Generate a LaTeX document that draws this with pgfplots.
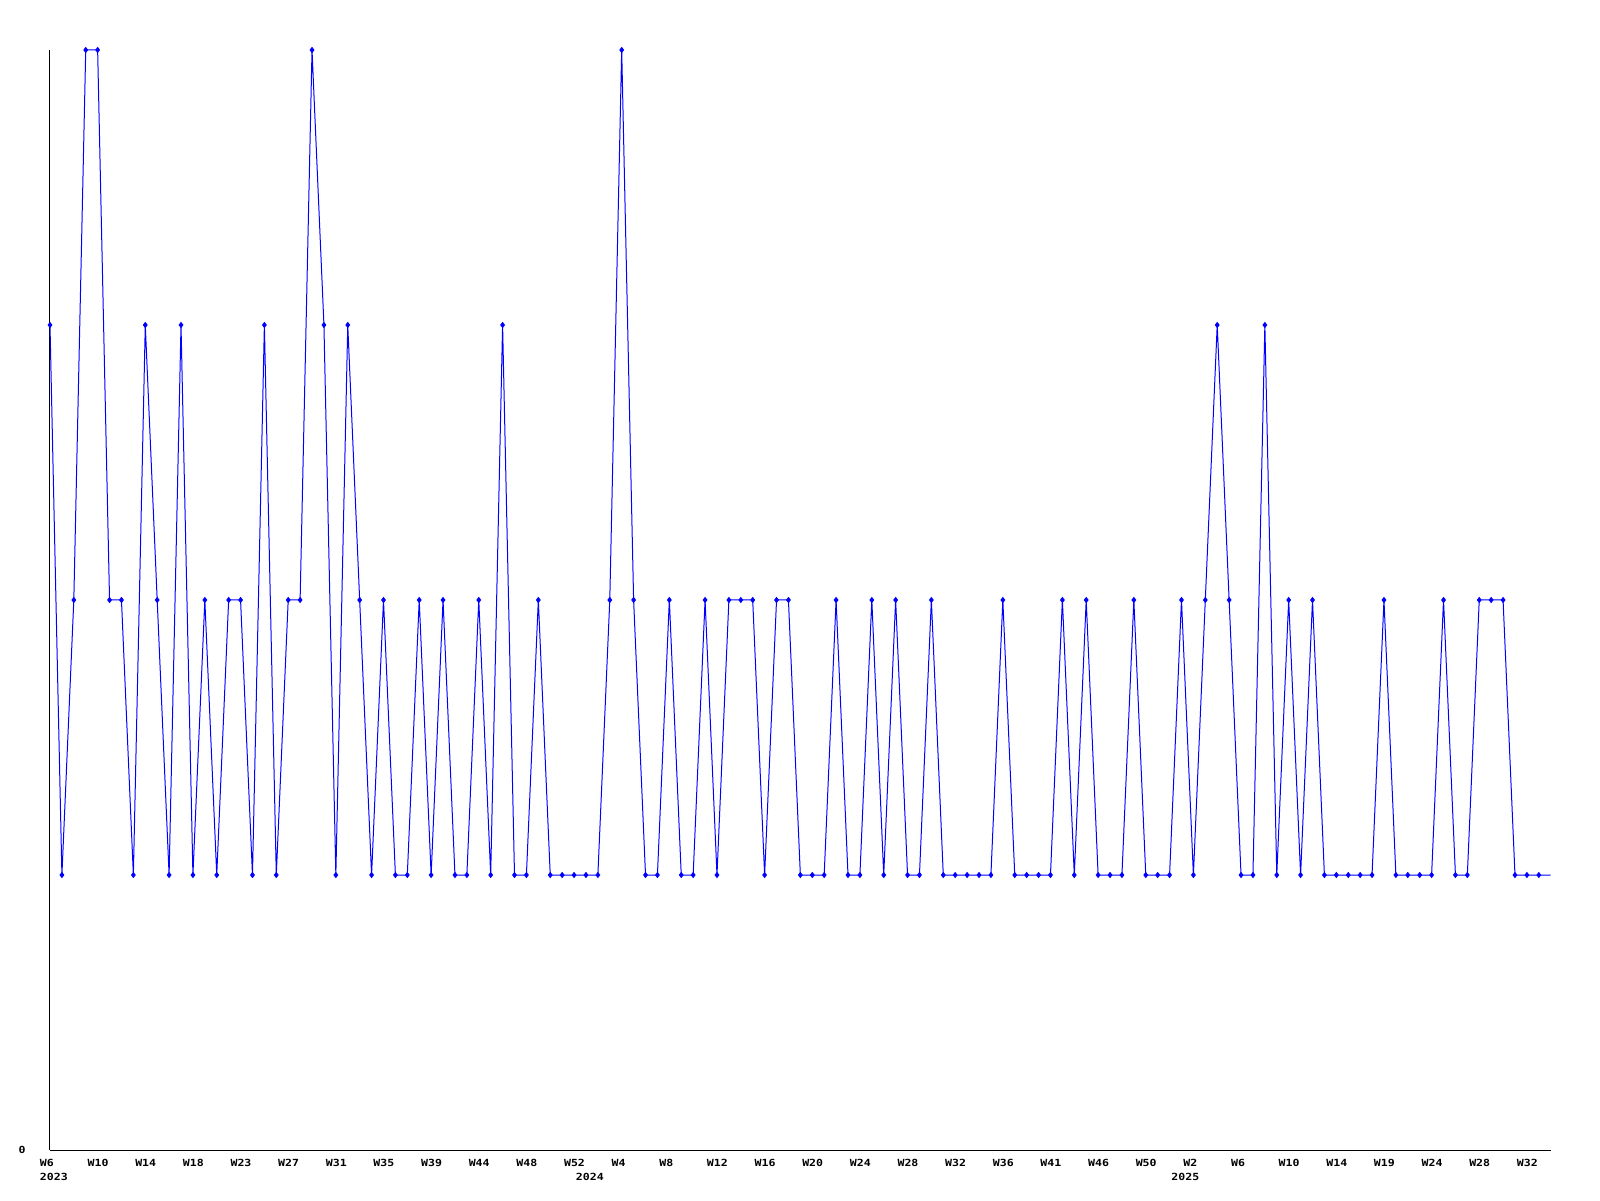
\documentclass[border=0pt]{standalone}
\usepackage{fontspec}
\usepackage{pgfplots}
\pgfplotsset{compat=1.18}
\newfontfamily\lab[FakeStretch=1.18]{DejaVu Sans Mono}
\newcommand{\labfont}{\lab\bfseries\fontsize{4.9}{7}\selectfont}
\begin{document}
\begin{tikzpicture}
\begin{axis}[
  at={(0,0)}, anchor=south west,
  scale only axis, width=750.35pt, height=550pt,
  xmin=0, xmax=126, ymin=0, ymax=4,
  clip=false,
  axis x line=bottom, axis y line=left,
  axis line style={-, black, line width=0.5pt},
  major tick length=0pt,
  xtick={0,4,...,124},
  xticklabels={W6,W10,W14,W18,W23,W27,W31,W35,W39,W44,W48,W52,W4,W8,W12,W16,W20,W24,W28,W32,W36,W41,W46,W50,W2,W6,W10,W14,W19,W24,W28,W32},
  xticklabel style={anchor=north west, inner sep=0pt, xshift=-5.2pt, yshift=-4.5pt, font=\labfont},
  extra x ticks={0,45,95},
  extra x tick labels={2023,2024,2025},
  extra x tick style={grid=none, major tick length=0pt, xticklabel style={yshift=-7pt}},
  ytick={0}, yticklabels={0},
  yticklabel style={anchor=east, inner sep=0pt, xshift=-12pt, font=\labfont},
]
\addplot[color={rgb,255:red,0;green,0;blue,255}, line width=0.5pt, mark=diamond*, mark size=1.2pt, mark indices={1,...,126}] coordinates {
(0,3)(1,1)(2,2)(3,4)(4,4)(5,2)(6,2)(7,1)(8,3)(9,2)
(10,1)(11,3)(12,1)(13,2)(14,1)(15,2)(16,2)(17,1)(18,3)(19,1)
(20,2)(21,2)(22,4)(23,3)(24,1)(25,3)(26,2)(27,1)(28,2)(29,1)
(30,1)(31,2)(32,1)(33,2)(34,1)(35,1)(36,2)(37,1)(38,3)(39,1)
(40,1)(41,2)(42,1)(43,1)(44,1)(45,1)(46,1)(47,2)(48,4)(49,2)
(50,1)(51,1)(52,2)(53,1)(54,1)(55,2)(56,1)(57,2)(58,2)(59,2)
(60,1)(61,2)(62,2)(63,1)(64,1)(65,1)(66,2)(67,1)(68,1)(69,2)
(70,1)(71,2)(72,1)(73,1)(74,2)(75,1)(76,1)(77,1)(78,1)(79,1)
(80,2)(81,1)(82,1)(83,1)(84,1)(85,2)(86,1)(87,2)(88,1)(89,1)
(90,1)(91,2)(92,1)(93,1)(94,1)(95,2)(96,1)(97,2)(98,3)(99,2)
(100,1)(101,1)(102,3)(103,1)(104,2)(105,1)(106,2)(107,1)(108,1)(109,1)
(110,1)(111,1)(112,2)(113,1)(114,1)(115,1)(116,1)(117,2)(118,1)(119,1)
(120,2)(121,2)(122,2)(123,1)(124,1)(125,1)(126,1)
};
\end{axis}
\path (-25pt,-25pt) rectangle (775pt,575pt);
\end{tikzpicture}
\end{document}
